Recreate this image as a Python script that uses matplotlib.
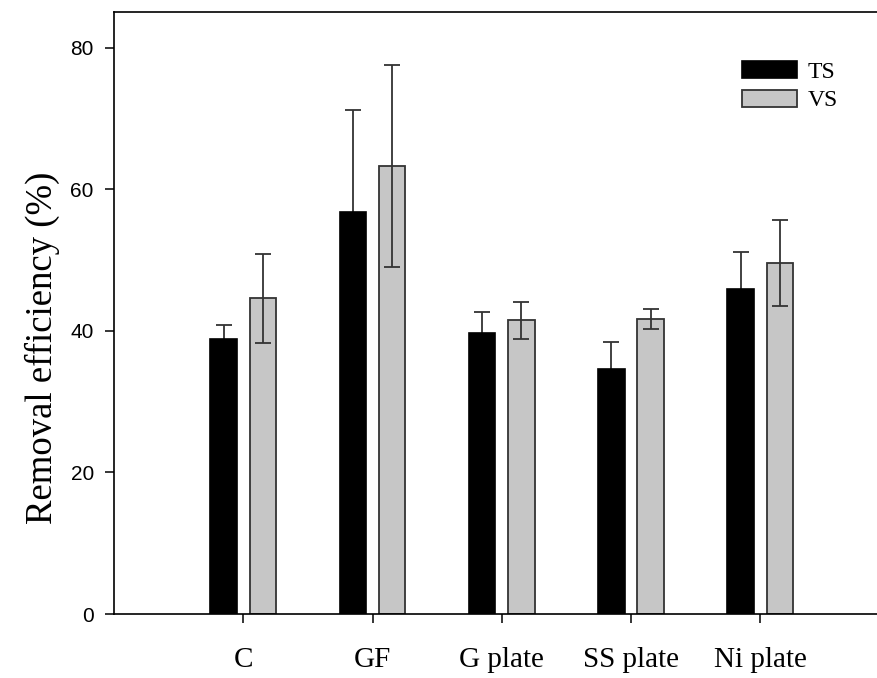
import numpy as np
import matplotlib
matplotlib.use("Agg")
import matplotlib.pyplot as plt

categories = ["C", "GF", "G plate", "SS plate", "Ni plate"]
ts_mean = [38.9, 56.8, 39.7, 34.6, 45.9]
ts_err = [1.9, 14.4, 2.9, 3.8, 5.2]
vs_mean = [44.6, 63.3, 41.5, 41.7, 49.6]
vs_err = [6.3, 14.3, 2.6, 1.4, 6.1]


def main():
    fig = plt.figure(figsize=(8.78, 6.78), dpi=100)
    ax = fig.add_axes([114 / 878, 64 / 678, 1 - 114 / 878, (614 - 11.7) / 678])

    x = np.arange(1, len(categories) + 1)
    w = 0.205
    off = 0.152
    err_kw = dict(fmt="none", ecolor="#333333", elinewidth=1.3, capsize=6, capthick=1.3)

    # TS bars hide the lower half of their error bars, VS bars do not
    ax.errorbar(x - off, ts_mean, yerr=ts_err, zorder=1, **err_kw)
    ax.bar(x - off, ts_mean, w, color="black", edgecolor="black",
           linewidth=1.2, label="TS", zorder=2)
    ax.bar(x + off, vs_mean, w, color="#c6c6c6", edgecolor="#333333",
           linewidth=1.3, label="VS", zorder=2)
    ax.errorbar(x + off, vs_mean, yerr=vs_err, zorder=3, **err_kw)

    ax.set_xlim(0, 5.91)
    ax.set_ylim(0, 85.1)
    ax.set_xticks(x)
    ax.set_xticklabels(categories, family="Liberation Serif", fontsize=21)
    ax.set_yticks([0, 20, 40, 60, 80])
    ax.set_yticklabels(["0", "20", "40", "60", "80"], family="Liberation Sans", fontsize=15)
    ax.tick_params(axis="x", direction="out", length=6.5, width=1.1, pad=17)
    ax.tick_params(axis="y", direction="out", length=6.5, width=1.1, pad=8)

    for s in ["left", "bottom", "top"]:
        ax.spines[s].set_linewidth(1.2)
    ax.spines["right"].set_visible(False)

    ax.set_ylabel("Removal efficiency (%)", family="Liberation Serif", fontsize=26.5)
    ax.yaxis.set_label_coords(-0.071, 0.442)

    fig.legend(loc="upper left", bbox_to_anchor=(742 / 878, (678 - 61) / 678),
               frameon=False, prop={"family": "Liberation Serif", "size": 17},
               handlelength=2.33, handleheight=0.72, handletextpad=0.45,
               labelspacing=0.3, borderpad=0, borderaxespad=0)

    fig.savefig("out.png", dpi=100)


if __name__ == "__main__":
    main()
